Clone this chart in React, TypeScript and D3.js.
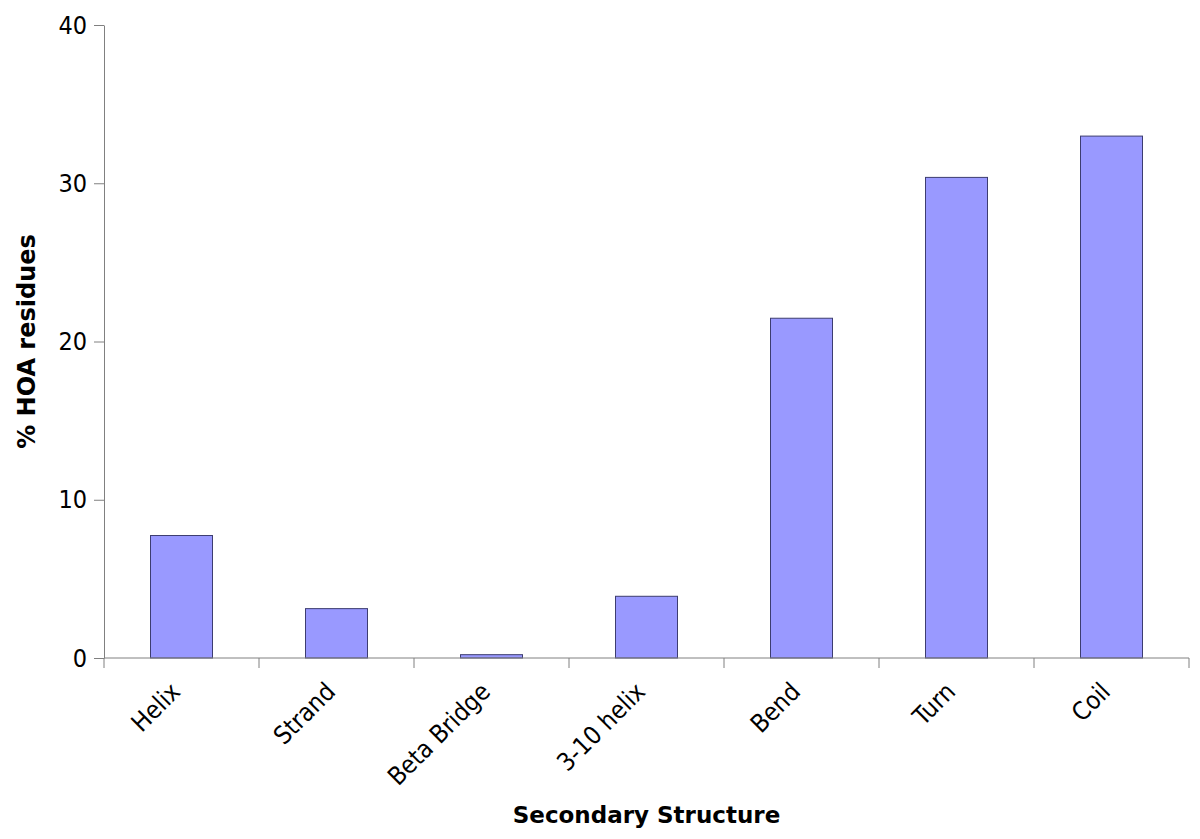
import React, { useEffect, useRef } from "react";
import * as d3 from "d3";

const categories = ["Helix", "Strand", "Beta Bridge", "3-10 helix", "Bend", "Turn", "Coil"];
const values = [7.74, 3.12, 0.21, 3.9, 21.47, 30.37, 32.98];
const yTicks = [0, 10, 20, 30, 40];

const width = 1200;
const height = 839;
const margin = { top: 25, right: 11, bottom: 181, left: 104 };
const labelFont = "'DejaVu Sans Condensed', 'DejaVu Sans', Tahoma, sans-serif";
const titleFont = "'DejaVu Sans', Tahoma, sans-serif";

export default function App() {
  const ref = useRef<SVGSVGElement>(null);

  useEffect(() => {
    const svg = d3.select(ref.current);
    svg.selectAll("*").remove();

    const innerW = width - margin.left - margin.right;
    const innerH = height - margin.top - margin.bottom;

    const x = d3.scaleBand<string>().domain(categories).range([0, innerW]).padding(0);
    const y = d3.scaleLinear().domain([0, 40]).range([innerH, 0]);

    const g = svg.append("g").attr("transform", `translate(${margin.left},${margin.top})`);

    // bars
    g.selectAll("rect.bar")
      .data(values)
      .enter()
      .append("rect")
      .attr("class", "bar")
      .attr("x", (d, i) => x(categories[i])! + x.bandwidth() * 0.3)
      .attr("width", x.bandwidth() * 0.4)
      .attr("y", d => y(d))
      .attr("height", d => innerH - y(d))
      .attr("fill", "#9999ff")
      .attr("stroke", "#3d3d70")
      .attr("stroke-width", 1);

    // y axis
    const yAxis = g.append("g")
      .call(d3.axisLeft(y).tickValues(yTicks).tickSize(10).tickPadding(7).tickSizeOuter(0));
    yAxis.select(".domain").attr("stroke", "#808080");
    yAxis.selectAll(".tick line").attr("stroke", "#808080");
    yAxis.selectAll(".tick text")
      .attr("font-family", labelFont)
      .attr("font-size", 25)
      .attr("fill", "#000");

    // x axis: ticks on band boundaries
    const xAxisG = g.append("g").attr("transform", `translate(0,${innerH})`);
    xAxisG.append("line")
      .attr("x1", 0).attr("x2", innerW)
      .attr("y1", 0).attr("y2", 0)
      .attr("stroke", "#808080");
    const bounds = categories.map(c => x(c)!).concat([innerW]);
    xAxisG.selectAll("line.tk")
      .data(bounds)
      .enter()
      .append("line")
      .attr("class", "tk")
      .attr("x1", d => d).attr("x2", d => d)
      .attr("y1", 0).attr("y2", 10)
      .attr("stroke", "#808080");

    xAxisG.selectAll("text.cat")
      .data(categories)
      .enter()
      .append("text")
      .attr("class", "cat")
      .attr("transform", d => `translate(${x(d)! + x.bandwidth() / 2 - 13},${22}) rotate(-45)`)
      .attr("text-anchor", "end")
      .attr("dy", "0.75em")
      .attr("font-family", labelFont)
      .attr("font-size", 25)
      .attr("fill", "#000")
      .text(d => d);

    // axis titles
    svg.append("text")
      .attr("x", margin.left + innerW / 2)
      .attr("y", 823)
      .attr("text-anchor", "middle")
      .attr("font-family", titleFont)
      .attr("font-weight", "bold")
      .attr("font-size", 23)
      .attr("fill", "#000")
      .text("Secondary Structure");

    svg.append("text")
      .attr("transform", `translate(35,${margin.top + innerH / 2}) rotate(-90)`)
      .attr("text-anchor", "middle")
      .attr("font-family", titleFont)
      .attr("font-weight", "bold")
      .attr("font-size", 24)
      .attr("fill", "#000")
      .text("% HOA residues");
  }, []);

  return (
    <svg
      ref={ref}
      width={width}
      height={height}
      style={{ position: "absolute", left: 0, top: 0, background: "#fff" }}
    />
  );
}
